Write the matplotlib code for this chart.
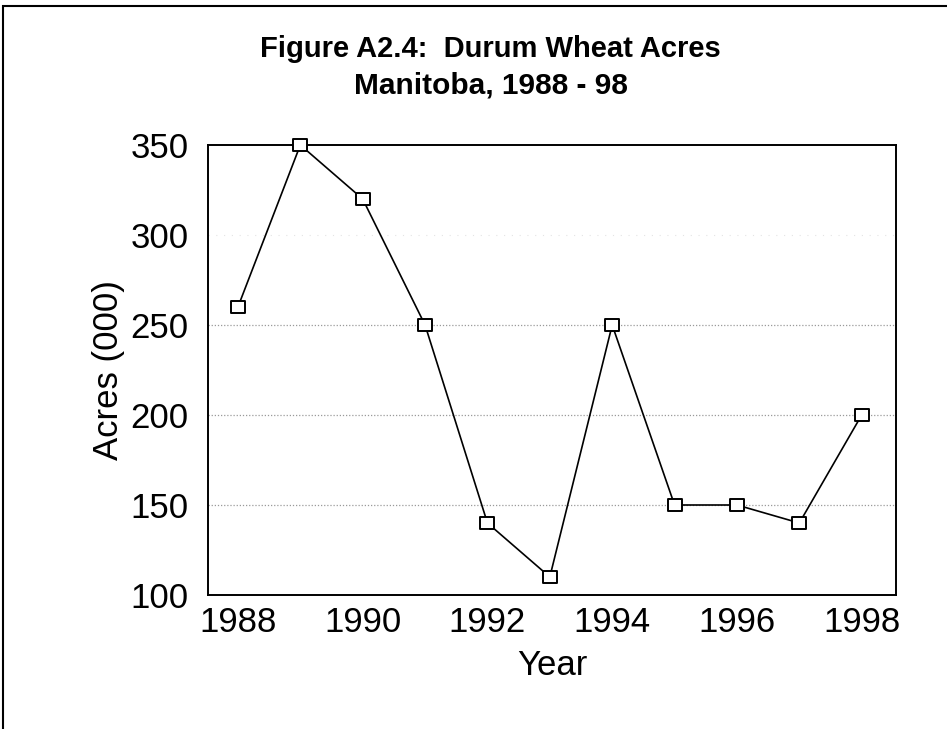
import matplotlib
matplotlib.use("Agg")
import matplotlib.pyplot as plt
from matplotlib.patches import Rectangle
from matplotlib.path import Path

years = [1988, 1989, 1990, 1991, 1992, 1993, 1994, 1995, 1996, 1997, 1998]
acres = [260, 350, 320, 250, 140, 110, 250, 150, 150, 140, 200]
x_ticks = [1988, 1990, 1992, 1994, 1996, 1998]
y_ticks = [100, 150, 200, 250, 300, 350]

plt.rcParams['font.family'] = ['Liberation Sans', 'DejaVu Sans']

fig = plt.figure(figsize=(9.47, 7.29), dpi=100)

# page frame around the whole figure
fig.patches.append(Rectangle((3 / 947, -0.05), 1.1, 1.05 - 6 / 729, transform=fig.transFigure,
                             fill=False, edgecolor='black', linewidth=1.5))

# slightly wide square marker
box = Path([(-1.3, -1), (1.3, -1), (1.3, 1), (-1.3, 1), (-1.3, -1)],
           [Path.MOVETO, Path.LINETO, Path.LINETO, Path.LINETO, Path.CLOSEPOLY])

ax = fig.add_axes([208 / 947, 1 - 595 / 729, (896 - 208) / 947, (595 - 145) / 729])
ax.plot(years, acres, color='black', linewidth=1.2, marker=box, markersize=10.5,
        markerfacecolor='white', markeredgecolor='black', markeredgewidth=1.4, zorder=3,
        clip_on=False)

ax.set_xlim(1987.52, 1998.55)
ax.set_ylim(100, 350)
ax.set_xticks(x_ticks)
ax.set_yticks(y_ticks)
ax.tick_params(length=0, labelsize=25)
ax.tick_params(axis='y', pad=14)
ax.tick_params(axis='x', pad=8)
for y in [150, 200, 250]:
    ax.axhline(y, color='#9a9a9a', linestyle=(0, (1, 1.5)), linewidth=0.9, zorder=1)
ax.axhline(300, color='#e4e4e4', linestyle=(0, (1, 6)), linewidth=0.8, zorder=1)
for s in ax.spines.values():
    s.set_linewidth(1.4)
    s.set_color('black')

ax.set_xlabel('Year', fontsize=25, labelpad=7)
ax.set_ylabel('Acres (000)', fontsize=25, labelpad=4)

fig.text(0.518, 1 - 57 / 729, 'Figure A2.4:  Durum Wheat Acres', ha='center', va='baseline',
         fontsize=21, fontweight='bold')
fig.text(0.518, 1 - 93 / 729, 'Manitoba, 1988 - 98', ha='center', va='baseline',
         fontsize=21.5, fontweight='bold')

fig.savefig('out.png', dpi=100)
